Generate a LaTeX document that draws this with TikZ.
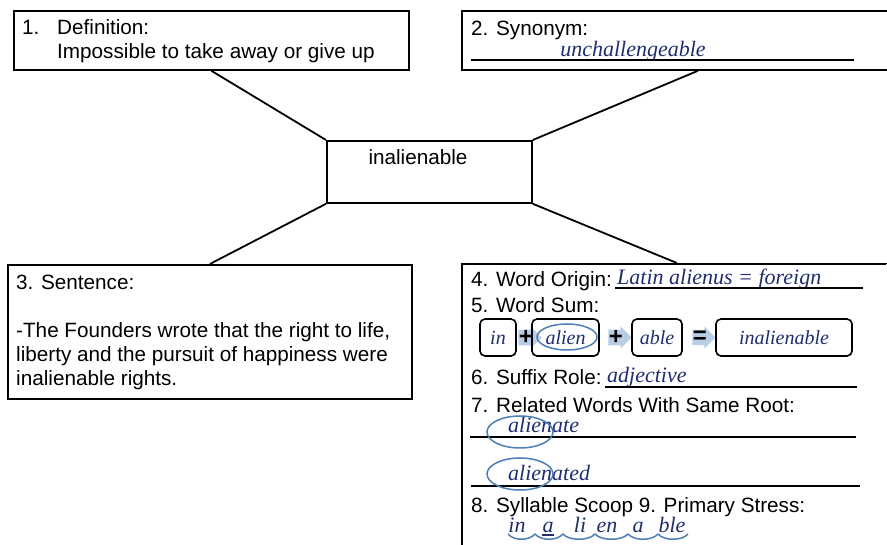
\documentclass[tikz,border=0pt]{standalone}
\usepackage{fontspec}
\setmainfont{Liberation Sans}
\newfontfamily\handfont{Liberation Serif}
\usetikzlibrary{shapes.arrows, positioning}
\definecolor{ink}{HTML}{1F2D6E}
\definecolor{loopblue}{HTML}{4A7EB5}
\definecolor{arrowblue}{HTML}{B9CDE5}
\newcommand{\labelsize}{\fontsize{20.7}{24}\selectfont}
\newcommand{\handsize}{\fontsize{22}{24}\selectfont\handfont\itshape}
\tikzstyle{box} = [rectangle,
			draw,
			line width = 1.8pt,
			anchor = north west,
			inner sep = 0pt]
\tikzstyle{txt} = [anchor = base west,
			inner sep = 0pt,
			font = \labelsize]
\tikzstyle{hand} = [anchor = base west,
			inner sep = 0pt,
			text = ink,
			font = \handsize]
\tikzstyle{sumbox} = [rectangle,
			draw,
			rounded corners = 5pt,
			line width = 1.6pt,
			minimum height = 37pt,
			text = ink,
			font = \fontsize{20}{22}\selectfont\handfont\itshape]
\tikzstyle{sign} = [single arrow,
			fill = arrowblue,
			single arrow head extend = 3pt,
			inner sep = 0.5pt,
			minimum width = 22pt,
			minimum height = 20pt,
			font = \fontsize{24}{24}\selectfont\bfseries]
\tikzstyle{ring} = [draw = loopblue, line width = 1.5pt]
\tikzstyle{rule} = [line width = 1.8pt]

\begin{document}
\begin{tikzpicture}[x = 1pt, y = -1pt, node distance = 1em, auto]
	\useasboundingbox (0,0) rectangle (887,545);
	\clip (0,0) rectangle (887,545);
	% the five boxes
	\node [box, minimum width = 395pt, minimum height = 59pt] (defn) at (13,10) {};
	\node [box, minimum width = 472pt, minimum height = 59pt] (syn) at (461,10) {};
	\node [box, minimum width = 205pt, minimum height = 62pt] (word) at (326,140) {};
	\node [box, minimum width = 404pt, minimum height = 134pt] (sent) at (7,264) {};
	\node [box, minimum width = 430pt, minimum height = 300pt] (info) at (461,263) {};
	\draw [rule] (defn.south) -- (word.north west);
	\draw [rule] (syn.south) -- (word.north east);
	\draw [rule] (word.south west) -- (sent.north);
	\draw [rule] (word.south east) -- (info.north);
	% cover the far border of the origin box
	\fill [white] (886,264) rectangle (900,550);

	% 1. definition
	\node [txt] (defnum) at (22,35) {1.};
	\node [txt] (defhead) at (57,35) {Definition:};
	\node [txt] (defbody) at (57,59) {Impossible to take away or give up};

	% 2. synonym
	\node [txt] (synhead) at (471,36) {2. Synonym:};
	\node [hand, anchor = base] (synword) at (633,57) {unchallengeable};
	\draw [rule] (471,60) -- (854,60);

	% the word
	\node [txt, anchor = base] (root) at (418,165) {inalienable};

	% 3. sentence
	\node [txt] (senthead) at (16,290) {3. Sentence:};
	\node [txt] (sent1) at (16,338) {-The Founders wrote that the right to life,};
	\node [txt] (sent2) at (16,362) {liberty and the pursuit of happiness were};
	\node [txt] (sent3) at (16,386) {inalienable rights.};

	% 4. word origin
	\node [txt] (orig) at (471,287) {4. Word Origin:};
	\node [hand] (origword) at (617,285) {Latin alienus = foreign};
	\draw [rule] (615,288) -- (863,288);

	% 5. word sum
	\node [txt] (sum) at (471,313) {5. Word Sum:};
	\node [sumbox, minimum width = 36pt] (in) at (498,337.5) {in};
	\node [sign] (plus1) at (526,337.5) {+};
	\node [sumbox, minimum width = 67pt] (alien) at (565.5,337.5) {alien};
	\node [sign] (plus2) at (616,337.5) {+};
	\node [sumbox, minimum width = 50pt] (able) at (657,337.5) {able};
	\node [sign] (equals) at (700,337.5) {=};
	\node [sumbox, minimum width = 136pt] (total) at (784,337.5) {inalienable};
	\draw [ring] (567,337) ellipse [x radius = 30pt, y radius = 13pt];

	% 6. suffix role
	\node [txt] (role) at (471,385) {6. Suffix Role:};
	\node [hand] (roleword) at (607,383) {adjective};
	\draw [rule] (605,387) -- (857,387);

	% 7. related words
	\node [txt] (rel) at (471,413) {7. Related Words With Same Root:};
	\node [hand] (rel1) at (508,433) {alienate};
	\draw [rule] (470,437) -- (856,437);
	\draw [ring] (520,432) ellipse [x radius = 33pt, y radius = 16pt];
	\node [hand] (rel2) at (508,481) {alienated};
	\draw [rule] (471,486) -- (860,486);
	\draw [ring] (520,474) ellipse [x radius = 33pt, y radius = 16pt];

	% 8. syllables, 9. stress
	\node [txt] (syl) at (471,512) {8. Syllable Scoop 9. Primary Stress:};
	\foreach \s/\x [count=\i] in {in/517, a/548, li/580, en/607, a/638, ble/672}
		\node [hand, anchor = base] (syl\i) at (\x,532) {\s};
	\draw [ink, line width = 1.2pt] ([yshift = -3pt]syl2.base west) -- ([yshift = -3pt]syl2.base east);
	\foreach \a/\b in {508/535, 535/563, 563/595, 595/628, 628/658, 658/688}
		\draw [ring] (\a,534) .. controls (\a+6,541) and (\b-6,541) .. (\b,534);
\end{tikzpicture}
\end{document}
